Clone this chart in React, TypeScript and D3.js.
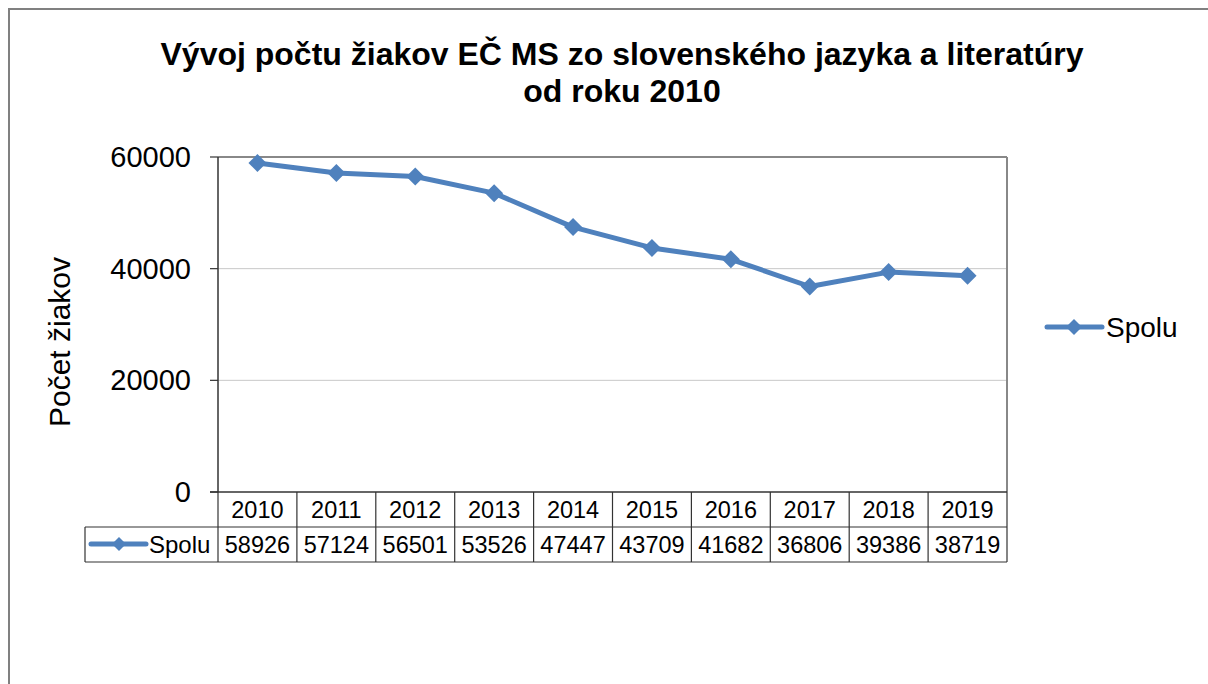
import React from "react";
import * as d3 from "d3";

const years = ["2010", "2011", "2012", "2013", "2014", "2015", "2016", "2017", "2018", "2019"];
const spolu = [58926, 57124, 56501, 53526, 47447, 43709, 41682, 36806, 39386, 38719];
const yTicks = [0, 20000, 40000, 60000];
const seriesName = "Spolu";
const titleLines = ["Vývoj počtu žiakov EČ MS zo slovenského jazyka a literatúry", "od roku 2010"];
const yTitle = "Počet žiakov";

const W = 1208, H = 684;
const plot = { left: 218, right: 1007, top: 157, bottom: 492 };
const row1Bottom = 527, row2Bottom = 562, tableLeft = 85;
const blue = "#4F81BD";
const font = "Arial, 'Liberation Sans', sans-serif";

function Diamond({ x, y, r }: { x: number; y: number; r: number }) {
  return <path d={`M${x},${y - r}L${x + r},${y}L${x},${y + r}L${x - r},${y}Z`} fill={blue} />;
}

export default function App() {
  const x = d3.scaleBand<string>().domain(years).range([plot.left, plot.right]);
  const y = d3.scaleLinear().domain([0, 60000]).range([plot.bottom, plot.top]);
  const line = d3.line<number>().x((_, i) => (x(years[i]) as number) + x.bandwidth() / 2).y((d) => y(d));
  const bw = x.bandwidth();
  return (
    <svg width={W} height={H} style={{ position: "absolute", left: 0, top: 0 }} fontFamily={font}>
      <rect x={0} y={0} width={W} height={H} fill="#fff" />
      <rect x={9} y={9} width={W + 20} height={H + 20} fill="none" stroke="#808080" strokeWidth={2} />
      {titleLines.map((t, i) => (
        <text key={i} x={622} y={65 + i * 37} textAnchor="middle" fontSize={32} fontWeight="bold" fill="#000">{t}</text>
      ))}
      {yTicks.filter((t) => t > 0 && t < 60000).map((t) => (
        <line key={t} x1={plot.left} x2={plot.right} y1={y(t)} y2={y(t)} stroke="#c8c8c8" strokeWidth={1} />
      ))}
      <line x1={plot.left} x2={plot.right} y1={plot.top} y2={plot.top} stroke="#888" strokeWidth={2} />
      <line x1={plot.right} x2={plot.right} y1={plot.top} y2={plot.bottom} stroke="#888" strokeWidth={2} />
      <line x1={plot.left} x2={plot.left} y1={plot.top} y2={plot.bottom} stroke="#333" strokeWidth={1.5} />
      {yTicks.map((t) => (
        <g key={t}>
          <line x1={plot.left - 8} x2={plot.left} y1={y(t)} y2={y(t)} stroke="#333" strokeWidth={1.2} />
          <text x={191} y={y(t) + 10} textAnchor="end" fontSize={29} fill="#000">{t}</text>
        </g>
      ))}
      <text transform={`translate(70,${342}) rotate(-90)`} textAnchor="middle" fontSize={30} fill="#000">{yTitle}</text>
      <line x1={plot.left - 8} x2={plot.right} y1={plot.bottom} y2={plot.bottom} stroke="#333" strokeWidth={1.5} />
      <line x1={tableLeft} x2={plot.right} y1={row1Bottom} y2={row1Bottom} stroke="#333" strokeWidth={1.2} />
      <line x1={tableLeft} x2={plot.right} y1={row2Bottom} y2={row2Bottom} stroke="#333" strokeWidth={1.2} />
      <line x1={tableLeft} x2={tableLeft} y1={row1Bottom} y2={row2Bottom} stroke="#333" strokeWidth={1.2} />
      {years.map((yr, i) => (
        <g key={yr}>
          <line x1={x(yr) as number} x2={x(yr) as number} y1={plot.bottom} y2={row2Bottom} stroke="#333" strokeWidth={1.2} />
          <text x={(x(yr) as number) + bw / 2} y={plot.bottom + 26} textAnchor="middle" fontSize={23.5} fill="#000">{yr}</text>
          <text x={(x(yr) as number) + bw / 2} y={row1Bottom + 26} textAnchor="middle" fontSize={23.5} fill="#000">{spolu[i]}</text>
        </g>
      ))}
      <line x1={plot.right} x2={plot.right} y1={plot.bottom} y2={row2Bottom} stroke="#333" strokeWidth={1.2} />
      <line x1={91} x2={146} y1={544} y2={544} stroke={blue} strokeWidth={5} strokeLinecap="round" />
      <Diamond x={119} y={544} r={7} />
      <text x={149} y={row1Bottom + 26} fontSize={24} fill="#000">{seriesName}</text>
      <path d={line(spolu) || ""} fill="none" stroke={blue} strokeWidth={5} strokeLinejoin="round" />
      {spolu.map((v, i) => (
        <Diamond key={i} x={(x(years[i]) as number) + bw / 2} y={y(v)} r={9} />
      ))}
      <line x1={1047} x2={1102} y1={327} y2={327} stroke={blue} strokeWidth={5} strokeLinecap="round" />
      <Diamond x={1074} y={327} r={8} />
      <text x={1106} y={337} fontSize={28} fill="#000">{seriesName}</text>
    </svg>
  );
}
